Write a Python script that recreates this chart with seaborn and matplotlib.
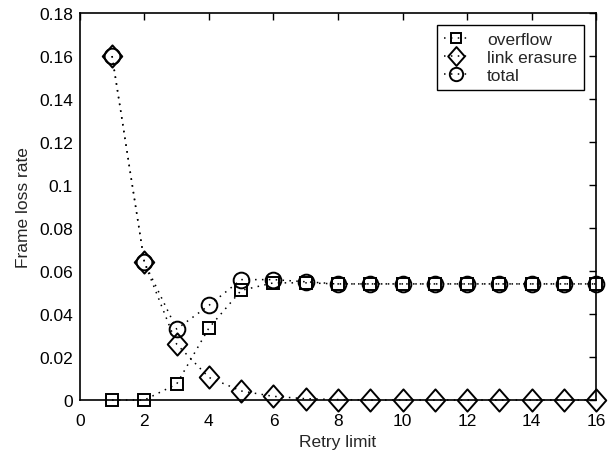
import numpy as np
import pandas as pd
import matplotlib
matplotlib.use("Agg")
import matplotlib.pyplot as plt
from matplotlib.path import Path
import seaborn as sns

retry = list(range(1, 17))
overflow = [0.0, 0.0, 0.0074, 0.0335, 0.051, 0.0545, 0.0545, 0.054, 0.054, 0.054, 0.054, 0.054, 0.054, 0.054, 0.054, 0.054]
link_erasure = [0.160, 0.064, 0.026, 0.0105, 0.0042, 0.0017, 0.0006, 0.0002, 0.0, 0.0, 0.0, 0.0, 0.0, 0.0, 0.0, 0.0]
total = [0.160, 0.064, 0.033, 0.044, 0.056, 0.056, 0.055, 0.054, 0.054, 0.054, 0.054, 0.054, 0.054, 0.054, 0.054, 0.054]

sns.set_style("white")
plt.rcParams['font.family'] = ['Liberation Sans', 'DejaVu Sans']

diamond = Path([(0, 1), (0.88, 0), (0, -1), (-0.88, 0), (0, 1)],
               [Path.MOVETO, Path.LINETO, Path.LINETO, Path.LINETO, Path.CLOSEPOLY])

fig = plt.figure(figsize=(6.14, 4.56), dpi=100)
ax = fig.add_axes([0.130, 0.1206, 0.841, 0.8486])

series = [("overflow", overflow, "s", 9.3), ("link erasure", link_erasure, diamond, 16), ("total", total, "o", 11.3)]
for name, vals, mk, ms in series:
    df = pd.DataFrame({"Retry limit": retry, "rate": vals})
    sns.lineplot(data=df, x="Retry limit", y="rate", ax=ax, color="black", linestyle=(0, (1, 3.5)),
                 linewidth=1.1, marker=mk, markersize=ms, markerfacecolor="none",
                 markeredgecolor="black", markeredgewidth=1.4, label=name, clip_on=False)

ax.set_xlim(0, 16)
ax.set_ylim(0, 0.18)
ax.set_xticks(np.arange(0, 17, 2))
ax.set_yticks(np.arange(0, 0.181, 0.02))
ax.set_yticklabels(["0", "0.02", "0.04", "0.06", "0.08", "0.1", "0.12", "0.14", "0.16", "0.18"])
ax.set_xlabel("Retry limit", fontsize=12.5, labelpad=5)
ax.set_ylabel("Frame loss rate", fontsize=12.5, labelpad=6)
ax.tick_params(direction="in", length=5, width=1, labelsize=12.5, top=True, right=True, colors="black")
ax.tick_params(axis="x", pad=9)
ax.tick_params(axis="y", pad=5)
for s in ax.spines.values():
    s.set_visible(True)
    s.set_color("black")
    s.set_linewidth(1.2)
    s.set_zorder(0.5)

leg = ax.legend(loc="upper right", fontsize=12.5, frameon=True, fancybox=False, edgecolor="black",
                handlelength=1.4, borderaxespad=0.7, labelspacing=0.15, handletextpad=1.1,
                borderpad=0.4, framealpha=1, markerscale=0.85)
leg.get_frame().set_linewidth(1.0)

fig.savefig("out.png", dpi=100)
